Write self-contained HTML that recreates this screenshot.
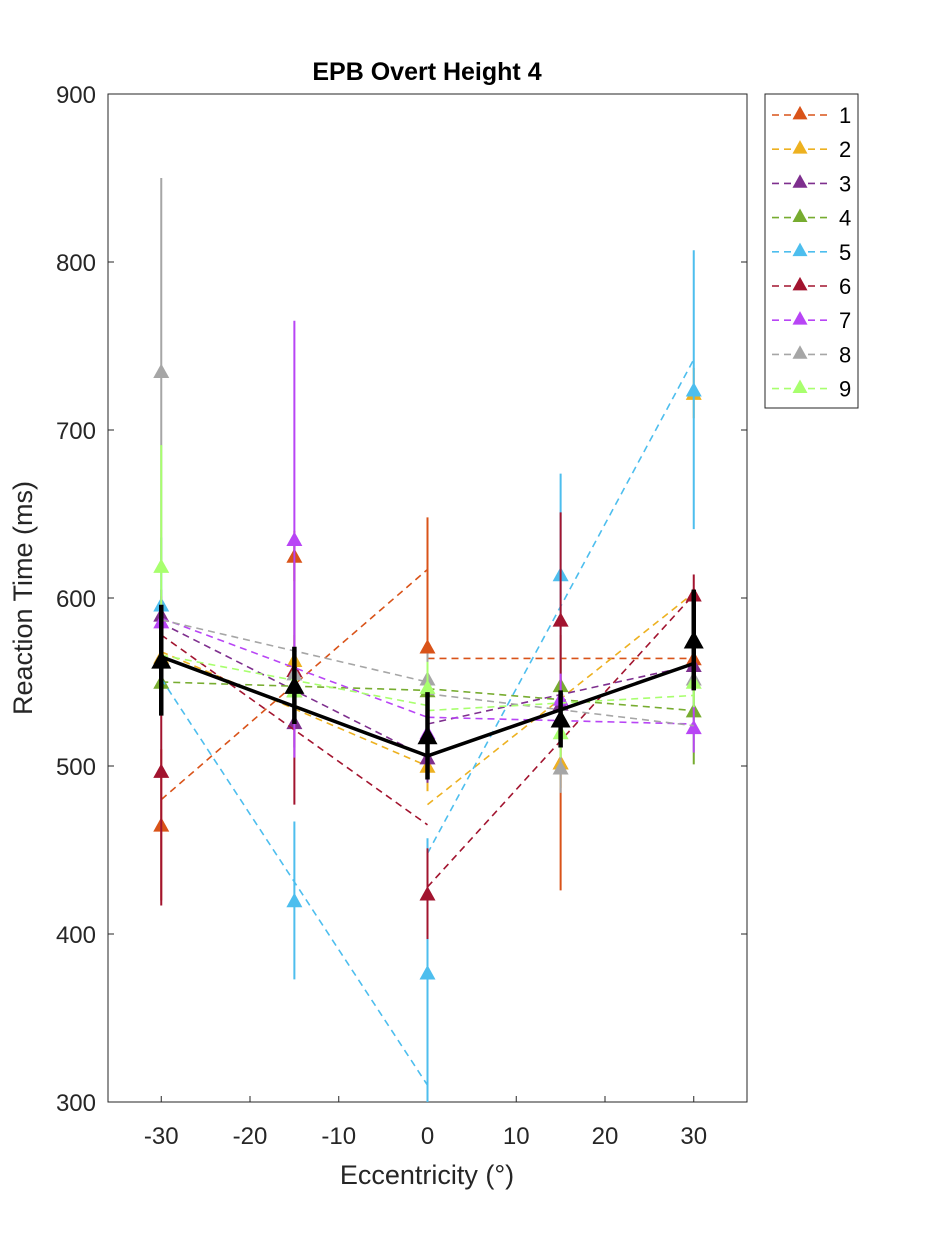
<!DOCTYPE html>
<html><head><meta charset="utf-8"><style>
body{margin:0;background:#fff;}
svg{display:block;font-family:"Liberation Sans",Arial,sans-serif;}
</style></head><body>
<svg id="chart" width="938" height="1238" viewBox="0 0 938 1238">
<rect width="938" height="1238" fill="#fff"/>
<text x="427" y="80" font-size="25" font-weight="bold" text-anchor="middle" fill="#000">EPB Overt Height 4</text>
<rect x="108" y="94" width="639" height="1008" fill="#fff" stroke="#262626" stroke-width="1"/>
<g id="ticks"></g>
<g id="series"></g>
<text x="427" y="1184" font-size="27" text-anchor="middle" fill="#262626">Eccentricity (°)</text>
<text transform="translate(32,598) rotate(-90)" font-size="27" text-anchor="middle" fill="#262626">Reaction Time (ms)</text>
<g id="legend"></g>
</svg>
<script>
const xs = [-30, -15, 0, 15, 30];
const xTicks = [-30, -20, -10, 0, 10, 20, 30];
const yTicks = [300, 400, 500, 600, 700, 800, 900];
const names = ['1','2','3','4','5','6','7','8','9'];
const colors = ['#D95319','#EDB120','#7E2F8E','#77AC30','#4DBEEE','#A2142F','#B845F5','#A6A6A6','#A8FF6E'];
const means = [
 [465,625,571,502,564],
 [565,563,500,502,722],
 [590,526,505,537,560],
 [550,545,545,548,533],
 [596,420,377,614,724],
 [497,557,424,587,602],
 [586,635,520,540,523],
 [735,555,552,499,552],
 [619,545,547,520,550]
];
const errs = [
 [45,15,77,76,15],
 [15,15,15,15,15],
 [15,15,15,15,15],
 [15,15,15,15,32],
 [40,47,80,60,83],
 [80,80,27,64,12],
 [15,130,15,15,15],
 [115,15,15,15,15],
 [72,15,15,15,15]
];
const fitLeft = [[480,617],[568,500],[585,505],[550,545],[552,310],[578,465],[588,529],[587,550],[566,536]];
const fitRight = [[564,564],[477,603],[525,560],[546,533],[448,742],[428,602],[529,525],[543,524],[533,542]];
const meanAll = [563,548,518,528,575];
const errAll = [33,23,26,17,30];
const meanFitLeft = [565,506];
const meanFitRight = [506,561];

const X0=108,X1=747,Y0=94,Y1=1102;
const sx = v => X0 + (v+36)/72*(X1-X0);
const sy = v => Y1 - (v-300)/600*(Y1-Y0);
const NS='http://www.w3.org/2000/svg';
function mk(tag, attrs, parent){const e=document.createElementNS(NS,tag);for(const k in attrs)e.setAttribute(k,attrs[k]);parent.appendChild(e);return e;}
const tg=document.getElementById('ticks');
xTicks.forEach(t=>{
 const l=mk('line',{x1:sx(t),x2:sx(t),y1:Y1,y2:Y1-6,stroke:'#262626'},tg);
 
 
 const tx=mk('text',{x:sx(t),y:Y1+42,'font-size':24,'text-anchor':'middle',fill:'#262626'},tg);
 tx.textContent=t;
 
 
});
yTicks.forEach(t=>{
 const l=mk('line',{x1:X0,x2:X0+6,y1:sy(t),y2:sy(t),stroke:'#262626'},tg);
 
 
 const l2=mk('line',{x1:X1,x2:X1-6,y1:sy(t),y2:sy(t),stroke:'#262626'},tg);
 
 
 const tx=mk('text',{x:X0-12,y:sy(t)+9,'font-size':24,'text-anchor':'end',fill:'#262626'},tg);
 tx.textContent=t;
 
 
});
function tri(cx,cy,s,fill,parent){
 return mk('polygon',{points:`${cx-s},${cy+s*0.85} ${cx+s},${cy+s*0.85} ${cx},${cy-s*0.95}`,fill:fill},parent);
}
const sg=document.getElementById('series');
const clip=mk('clipPath',{id:'pc'},sg);mk('rect',{x:X0,y:Y0,width:X1-X0,height:Y1-Y0},clip);
const inner=mk('g',{'clip-path':'url(#pc)'},sg);
means.forEach((m,i)=>{
 const g=mk('g',{},inner);
 
 
 xs.forEach((x,j)=>{
  const e=mk('line',{x1:sx(x),x2:sx(x),y1:sy(m[j]-errs[i][j]),y2:sy(m[j]+errs[i][j]),stroke:colors[i],'stroke-width':2},g);
  
  
 });
 const a=mk('line',{x1:sx(-30),x2:sx(0),y1:sy(fitLeft[i][0]),y2:sy(fitLeft[i][1]),stroke:colors[i],'stroke-width':1.6,'stroke-dasharray':'7,5'},g);
 
 
 const b=mk('line',{x1:sx(0),x2:sx(30),y1:sy(fitRight[i][0]),y2:sy(fitRight[i][1]),stroke:colors[i],'stroke-width':1.6,'stroke-dasharray':'7,5'},g);
 
 
 xs.forEach((x,j)=>{
  const t=tri(sx(x),sy(m[j]),8,colors[i],g);
  
  
 });
});
const mg=mk('g',{},inner);


xs.forEach((x,j)=>{
 const e=mk('line',{x1:sx(x),x2:sx(x),y1:sy(meanAll[j]-errAll[j]),y2:sy(meanAll[j]+errAll[j]),stroke:'#000','stroke-width':4.5},mg);
 
 
});
const ml=mk('polyline',{points:`${sx(-30)},${sy(meanFitLeft[0])} ${sx(0)},${sy(meanFitLeft[1])}`,fill:'none',stroke:'#000','stroke-width':3.5},mg);


const mr=mk('polyline',{points:`${sx(0)},${sy(meanFitRight[0])} ${sx(30)},${sy(meanFitRight[1])}`,fill:'none',stroke:'#000','stroke-width':3.5},mg);


xs.forEach((x,j)=>{
 const t=tri(sx(x),sy(meanAll[j]),10,'#000',mg);
 
 
});
const lg=document.getElementById('legend');
mk('rect',{x:765,y:94,width:93,height:314,fill:'#fff',stroke:'#262626'},lg);
names.forEach((n,i)=>{
 const y=115+i*34.2;
 const g=mk('g',{},lg);
 
 
 mk('line',{x1:772,x2:828,y1:y,y2:y,stroke:colors[i],'stroke-width':1.6,'stroke-dasharray':'7,5'},g);
 tri(800,y-2,7.5,colors[i],g);
 const t=mk('text',{x:839,y:y+8,'font-size':22,fill:'#000'},g);
 t.textContent=n;
});
</script>
</body></html>
